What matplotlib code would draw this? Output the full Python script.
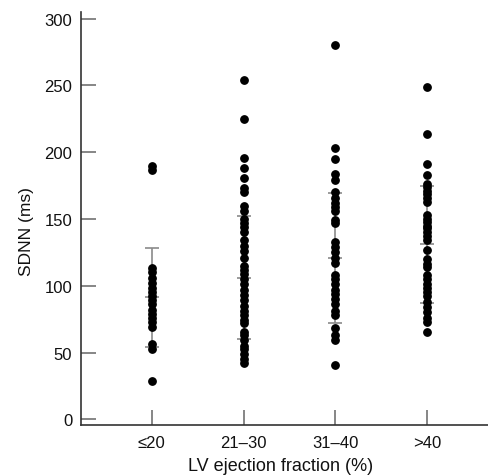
import numpy as np
import matplotlib
matplotlib.use("Agg")
import matplotlib.pyplot as plt

plt.rcParams['font.family'] = ['Liberation Sans', 'DejaVu Sans']

# groups of LV ejection fraction
groups = ["≤20", "21–30", "31–40", ">40"]

# SDNN values (ms), one list per group
sdnn_le20 = [190, 187, 113, 110, 106, 102, 98, 95, 92, 89, 86, 82, 79, 76,
             73, 69, 56, 53, 29]
sdnn_21_30 = [254, 225, 196, 188, 181, 173, 170, 160, 156, 150, 147, 144,
              140, 134, 130, 126, 121, 115, 112, 109, 105, 101, 97, 93, 89,
              85, 81, 78, 74, 72, 65, 63, 59, 55, 53, 49, 45, 42]
sdnn_31_40 = [280, 203, 195, 184, 179, 170, 166, 162, 159, 156, 149, 147,
              133, 129, 125, 121, 117, 108, 105, 101, 97, 94, 90, 86, 81,
              78, 68, 63, 59, 41]
sdnn_gt40 = [249, 214, 191, 183, 176, 174, 171, 169, 166, 163, 153, 150,
             148, 145, 143, 140, 137, 134, 127, 120, 116, 114, 108, 105, 101,
             98, 95, 92, 88, 84, 80, 76, 73, 65]

# mean and SD shown by the grey bars
means = [91.4, 106.1, 121.1, 130.9]
sds = [37.0, 45.8, 48.7, 43.5]

yticks = [0, 50, 100, 150, 200, 250, 300]

fig = plt.figure(figsize=(4.88, 4.77), dpi=100)
ax = fig.add_axes([0.1654, 0.1069, 0.8346, 0.8658])

pos = np.arange(1, len(groups) + 1)
ax.errorbar(pos, means, yerr=sds, fmt='none', ecolor='#8a8a8a',
            elinewidth=1.2, capsize=4.7, capthick=1.2, zorder=1)
ax.plot(pos, means, linestyle='none', marker='_', markersize=9.4,
        markeredgewidth=1.2, color='#8a8a8a', zorder=1)

for p, vals in zip(pos, [sdnn_le20, sdnn_21_30, sdnn_31_40, sdnn_gt40]):
    ax.plot([p] * len(vals), vals, linestyle='none', marker='o',
            markersize=5.3, color='black', zorder=2)

ax.set_xlim(0.228, 4.66)
ax.set_ylim(-4.3, 305)
ax.set_xticks(pos)
ax.set_xticklabels(groups)
ax.set_yticks(yticks)

for s in ['top', 'right']:
    ax.spines[s].set_visible(False)
for s in ['left', 'bottom']:
    ax.spines[s].set_color('#333333')
    ax.spines[s].set_linewidth(1.2)

ax.tick_params(direction='in', length=10.5, width=1.1, color='#666666',
               labelsize=12, labelcolor='#111111')
ax.tick_params(axis='y', pad=6)
ax.tick_params(axis='x', pad=7)

ax.set_ylabel("SDNN (ms)", fontsize=12.5, color='#111111')
ax.set_xlabel("LV ejection fraction (%)", fontsize=13, color='#111111')
ax.yaxis.set_label_coords(-0.115, 0.47)
ax.xaxis.set_label_coords(0.49, -0.078)

fig.savefig("out.png", dpi=100)
